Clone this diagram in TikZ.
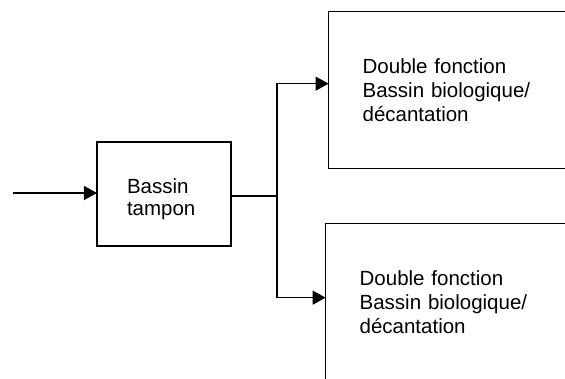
\documentclass[tikz,border=0pt]{standalone}
\usepackage{fontspec}
\setmainfont{Liberation Sans}
\usetikzlibrary{arrows.meta,calc}

\begin{document}
\begin{tikzpicture}[x=1pt,y=1pt,
  every node/.style={font=\fontsize{20.5}{24}\selectfont},
  stage/.style={draw=black, line width=1.3pt, rectangle, inner sep=0pt, align=left},
  flow/.style={draw=black, line width=1.3pt},
  feed/.style={flow, -{Triangle[length=13pt,width=14pt]}, shorten >=-0.6pt}
]
  % page frame
  \useasboundingbox (0,0) rectangle (565,-378);
  \clip (0,0) rectangle (565,-378);

  % buffer tank
  \node[stage, minimum width=134pt, minimum height=104pt, text width=74pt,
        font=\fontsize{20.5}{22}\selectfont, text height=15pt, text depth=17pt]
    (tampon) at (164,-194) {Bassin\\tampon};

  % two combined biological / settling tanks (run past the page edge)
  \node[stage, anchor=north west, minimum width=240pt, minimum height=157pt, text width=172pt]
    (bio1) at (328,-11) {Double fonction\\Bassin biologique/\\décantation};
  \node[stage, anchor=north west, minimum width=240pt, minimum height=157pt, text width=172pt]
    (bio2) at (325,-223) {Double fonction\\Bassin biologique/\\décantation};

  % inflow
  \coordinate (inlet) at (13,-193);
  \draw[feed] (inlet) -- (inlet -| tampon.west);

  % split towards both tanks
  \coordinate (split) at (277,-196);
  \draw[flow] (tampon.east |- split) -- (split);
  \draw[feed] (split) |- ($(bio1.west)+(0,6.5)$);
  \draw[feed] (split) |- ($(bio2.west)+(0,4.5)$);
\end{tikzpicture}
\end{document}
